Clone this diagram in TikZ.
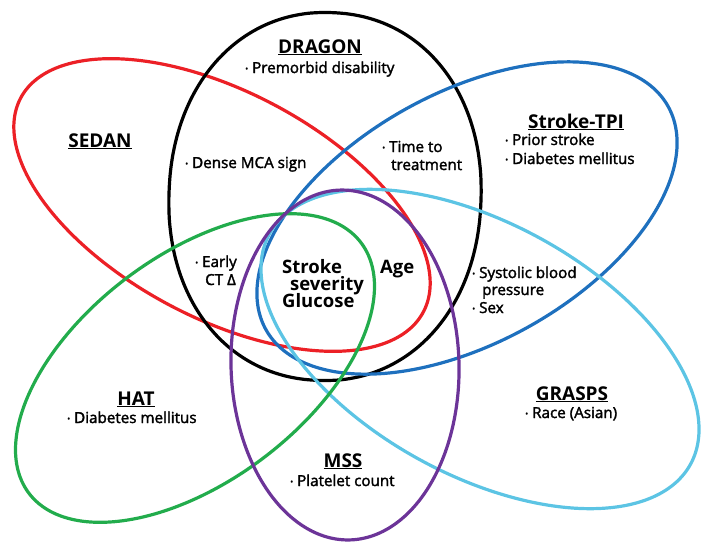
\documentclass[tikz,border=0pt]{standalone}
\usepackage{fontspec}
\setmainfont{Open Sans}
\newfontfamily\itemfont{Open Sans}[FakeBold=2]
\usetikzlibrary{positioning}
\definecolor{sedancol}{RGB}{236,32,38}
\definecolor{dragoncol}{RGB}{0,0,0}
\definecolor{tpicol}{RGB}{30,112,190}
\definecolor{graspscol}{RGB}{92,196,228}
\definecolor{hatcol}{RGB}{34,172,76}
\definecolor{msscol}{RGB}{108,52,152}
\newcommand{\bul}{\raisebox{1.5pt}{\fontsize{8}{8}\selectfont\textbullet}\ }

\begin{document}
\begin{tikzpicture}[x=1pt,y=-1pt,
  ring/.style={line width=3.2pt,line join=round},
  title/.style={font=\fontsize{19}{22}\selectfont\bfseries,inner sep=0pt,anchor=base},
  item/.style={font=\itemfont\fontsize{15.2}{18}\selectfont,inner sep=0pt,anchor=base west},
  core/.style={font=\fontsize{18.5}{22}\selectfont\bfseries,inner sep=0pt,anchor=base west}]
  \useasboundingbox (0,0) rectangle (703,541);
  % the six score outlines: colour / centre / tilt / half axes / roundness
  \foreach \col/\cx/\cy/\ang/\ra/\rb/\ex in {sedancol/222/205/-28/228/113/2,
      dragoncol/325/196.5/-2.5/156/184/2.12, tpicol/467/218/29/230/125/2,
      graspscol/480/349/-28.7/240/126/2, hatcol/195/368/37/208/113/2,
      msscol/345/365/1.6/114/175/2}
    {\draw[ring,\col,shift={(\cx,\cy)},rotate=\ang]
       plot[smooth cycle,domain=1:358,samples=120]
       ({\ra*sign(cos(\x))*abs(cos(\x))^(2/\ex)},{\rb*sign(sin(\x))*abs(sin(\x))^(2/\ex)});}
  % names of the scores
  \node[title] (dragon) at (320,53) {\underline{DRAGON}};
  \node[title] (sedan) at (100,147) {\underline{SEDAN}};
  \node[title] (tpi) at (576,128) {\underline{Stroke-TPI}};
  \node[title] (grasps) at (572,400) {\underline{GRASPS}};
  \node[title] (hat) at (136,405) {\underline{HAT}};
  \node[title] (mss) at (343,467) {\underline{MSS}};
  % predictors
  \node[item] (premorbid) at (245,73) {\bul Premorbid disability};
  \node[item] (dense) at (185,168) {\bul Dense MCA sign};
  \node[item] (time1) at (382,152) {\bul Time to};
  \node[item] (time2) at (391,170) {treatment};
  \node[item] (prior) at (505,145) {\bul Prior stroke};
  \node[item] (diabtpi) at (505,164) {\bul Diabetes mellitus};
  \node[item] (early1) at (195,267) {\bul Early};
  \node[item] (early2) at (205,285) {CT Δ};
  \node[item] (sys1) at (472,278) {\bul Systolic blood};
  \node[item] (sys2) at (482,295) {pressure};
  \node[item] (sex) at (472,313) {\bul Sex};
  \node[item] (race) at (525,418) {\bul Race (Asian)};
  \node[item] (diabhat) at (67,423) {\bul Diabetes mellitus};
  \node[item] (platelet) at (290,486) {\bul Platelet count};
  % shared by all scores
  \node[core] (stroke) at (282,273) {Stroke};
  \node[core] (severity) at (290,290) {severity};
  \node[core] (glucose) at (282,307) {Glucose};
  \node[core] (age) at (380,273) {Age};
\end{tikzpicture}
\end{document}
